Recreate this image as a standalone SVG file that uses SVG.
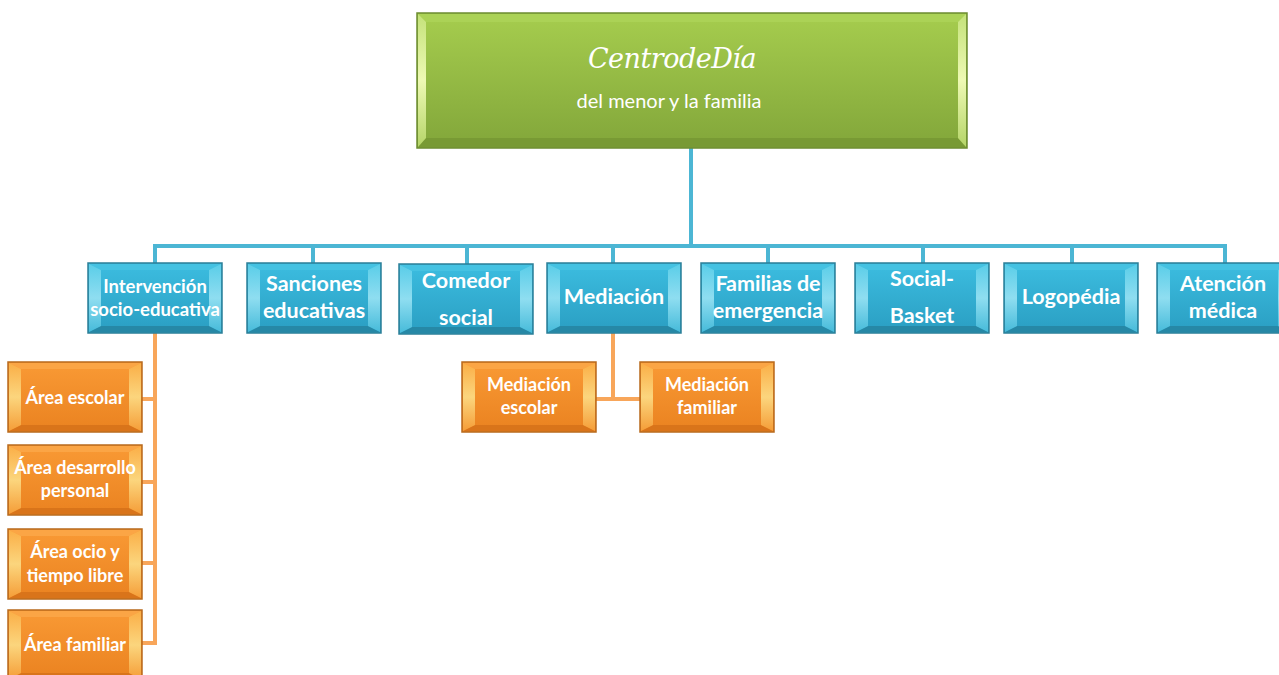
<svg xmlns="http://www.w3.org/2000/svg" xmlns:xlink="http://www.w3.org/1999/xlink" width="1279" height="675" viewBox="0 0 1279 675">
<style>
.t{font-family:Lato,"Liberation Sans",sans-serif;font-weight:bold;fill:#ffffff;text-anchor:middle}
.tb{font-size:21.5px}
.ts{font-size:18.5px}
.to{font-size:18px}
.cb{stroke:#4cb6d4;stroke-width:4;fill:none}
.co{stroke:#f8a65a;stroke-width:4;fill:none}
</style>
<defs>
<linearGradient id="gB" x1="0" y1="0" x2="0" y2="1"><stop offset="0" stop-color="#3cbde0"/><stop offset="1" stop-color="#2a9ec2"/></linearGradient>
<linearGradient id="gO" x1="0" y1="0" x2="0" y2="1"><stop offset="0" stop-color="#f99a35"/><stop offset="1" stop-color="#ea8220"/></linearGradient>
<linearGradient id="gG" x1="0" y1="0" x2="0" y2="1"><stop offset="0" stop-color="#a6cd4e"/><stop offset="1" stop-color="#82a63a"/></linearGradient>
<linearGradient id="sB" x1="0" y1="0" x2="0" y2="1"><stop offset="0" stop-color="#5fd0ea"/><stop offset="0.5" stop-color="#9fe6f6"/><stop offset="1" stop-color="#4cc0de"/></linearGradient>
<linearGradient id="sO" x1="0" y1="0" x2="0" y2="1"><stop offset="0" stop-color="#fbb24a"/><stop offset="0.5" stop-color="#fde28c"/><stop offset="1" stop-color="#f7a23c"/></linearGradient>
<linearGradient id="sG" x1="0" y1="0" x2="0" y2="1"><stop offset="0" stop-color="#c4e27a"/><stop offset="0.5" stop-color="#eef9b4"/><stop offset="1" stop-color="#b5d568"/></linearGradient>
<g id="boxB">
<rect x="0" y="0" width="134" height="70" fill="url(#gB)" stroke="#2b7f98" stroke-width="1.5"/>
<polygon points="1,1 133,1 121,7 13,7" fill="#45c2e2"/>
<polygon points="1,69 13,63 121,63 133,69" fill="#2688a6"/>
<polygon points="1,1 13,7 13,63 1,69" fill="url(#sB)" opacity="0.85"/>
<polygon points="133,1 121,7 121,63 133,69" fill="url(#sB)" opacity="0.85"/>
</g>
<g id="boxO">
<rect x="0" y="0" width="134" height="70" fill="url(#gO)" stroke="#b86a1c" stroke-width="1.5"/>
<polygon points="1,1 133,1 121,7 13,7" fill="#fba545"/>
<polygon points="1,69 13,63 121,63 133,69" fill="#d9741a"/>
<polygon points="1,1 13,7 13,63 1,69" fill="url(#sO)" opacity="0.85"/>
<polygon points="133,1 121,7 121,63 133,69" fill="url(#sO)" opacity="0.85"/>
</g>
</defs>

<g id="connectors">
<polyline class="cb" points="691,148 691,246"/>
<polyline class="cb" points="155,263 155,246 1225,246 1225,263"/>
<line class="cb" x1="313" y1="246" x2="313" y2="263"/>
<line class="cb" x1="467" y1="246" x2="467" y2="264"/>
<line class="cb" x1="613" y1="246" x2="613" y2="263"/>
<line class="cb" x1="768" y1="246" x2="768" y2="263"/>
<line class="cb" x1="923" y1="246" x2="923" y2="263"/>
<line class="cb" x1="1072" y1="246" x2="1072" y2="263"/>
<polyline class="co" points="155,333 155,643 142,643"/>
<line class="co" x1="142" y1="399" x2="155" y2="399"/>
<line class="co" x1="142" y1="482" x2="155" y2="482"/>
<line class="co" x1="142" y1="563" x2="155" y2="563"/>
<line class="co" x1="613" y1="333" x2="613" y2="399"/>
<line class="co" x1="595" y1="399" x2="640" y2="399"/>
</g>

<g id="n-centro">
<rect x="417" y="13" width="550" height="135" fill="url(#gG)" stroke="#6c8c30" stroke-width="1.5"/>
<polygon points="418,14 966,14 958,22 426,22" fill="#abd256"/>
<polygon points="418,147 426,138 958,138 966,147" fill="#789a34"/>
<polygon points="418,14 426,22 426,138 418,147" fill="url(#sG)"/>
<polygon points="966,14 958,22 958,138 966,147" fill="url(#sG)"/>
<text x="672" y="68" font-family="'DejaVu Serif','Liberation Serif',serif" font-style="italic" font-size="27" fill="#ffffff" text-anchor="middle" letter-spacing="-0.5">CentrodeDía</text>
<text x="669" y="108" font-family="Lato,'Liberation Sans',sans-serif" font-size="20" fill="#ffffff" text-anchor="middle">del menor y la familia</text>
</g>

<g id="n-interv"><use xlink:href="#boxB" x="88" y="263"/>
<text class="t ts" x="155" y="293">Intervención</text><text class="t ts" x="155" y="316">socio-educativa</text></g>
<g id="n-sanciones"><use xlink:href="#boxB" x="247" y="263"/>
<text class="t tb" x="314" y="291">Sanciones</text><text class="t tb" x="314" y="318">educativas</text></g>
<g id="n-comedor"><use xlink:href="#boxB" x="399" y="264"/>
<text class="t tb" x="466" y="288">Comedor</text><text class="t tb" x="466" y="325">social</text></g>
<g id="n-mediacion"><use xlink:href="#boxB" x="547" y="263"/>
<text class="t tb" x="614" y="304">Mediación</text></g>
<g id="n-familias"><use xlink:href="#boxB" x="701" y="263"/>
<text class="t tb" x="768" y="291">Familias de</text><text class="t tb" x="768" y="318">emergencia</text></g>
<g id="n-social"><use xlink:href="#boxB" x="855" y="263"/>
<text class="t tb" x="922" y="286">Social-</text><text class="t tb" x="922" y="323">Basket</text></g>
<g id="n-logopedia"><use xlink:href="#boxB" x="1004" y="263"/>
<text class="t tb" x="1071" y="304">Logopédia</text></g>
<g id="n-atencion"><use xlink:href="#boxB" x="1157" y="263"/>
<text class="t tb" x="1223" y="291">Atención</text><text class="t tb" x="1223" y="318">médica</text></g>

<g id="n-escolar"><use xlink:href="#boxO" x="8" y="362"/>
<text class="t to" x="75" y="404">Área escolar</text></g>
<g id="n-desarrollo"><use xlink:href="#boxO" x="8" y="445"/>
<text class="t to" x="75" y="474">Área desarrollo</text><text class="t to" x="75" y="497">personal</text></g>
<g id="n-ocio"><use xlink:href="#boxO" x="8" y="529"/>
<text class="t to" x="75" y="558">Área ocio y</text><text class="t to" x="75" y="582">tiempo libre</text></g>
<g id="n-familiar"><use xlink:href="#boxO" x="8" y="610"/>
<text class="t to" x="75" y="651">Área familiar</text></g>
<g id="n-medesc"><use xlink:href="#boxO" x="462" y="362"/>
<text class="t to" x="529" y="391">Mediación</text><text class="t to" x="529" y="414">escolar</text></g>
<g id="n-medfam"><use xlink:href="#boxO" x="640" y="362"/>
<text class="t to" x="707" y="391">Mediación</text><text class="t to" x="707" y="414">familiar</text></g>
</svg>
